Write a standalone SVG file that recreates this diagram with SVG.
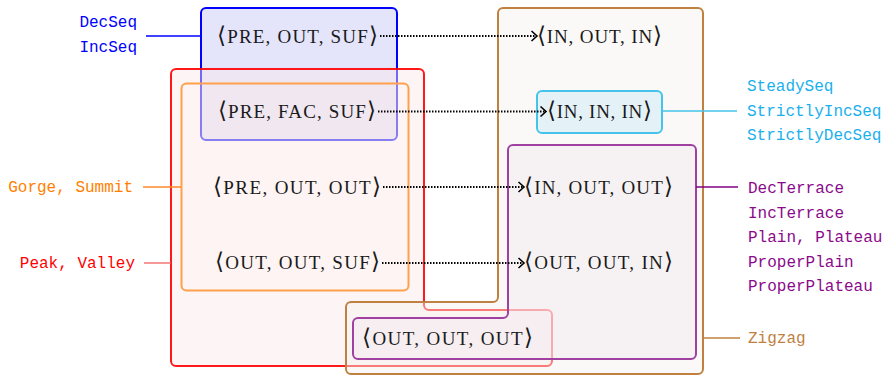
<svg xmlns="http://www.w3.org/2000/svg" width="888" height="375" viewBox="0 0 888 375">
<style>
.m{font-family:"Liberation Serif","DejaVu Serif",serif;font-size:19px;fill:#1a1a1a}
.b{font-family:"DejaVu Sans","DejaVu Serif",serif;font-size:23px;font-weight:300}
.t{font-family:"Liberation Mono","DejaVu Sans Mono",monospace;font-size:16px}
.arr{fill:none;stroke:#000;stroke-width:1.9;stroke-dasharray:1.5 1.5}
.lead{fill:none;stroke-width:1.3}
</style>
<defs>
<marker id="ah" markerUnits="userSpaceOnUse" markerWidth="12" markerHeight="14" refX="10" refY="7" orient="auto" overflow="visible">
<path d="M4.5,2 L10,7 L4.5,12" fill="none" stroke="#000" stroke-width="1.6"/>
</marker>
</defs>
<rect width="888" height="375" fill="#fff"/>

<g id="box-decseq">
<rect x="201" y="8" width="196" height="132" rx="5" fill="#e4e4fa" stroke="#0000ff" stroke-width="2"/>
</g>
<g id="box-peak">
<path d="M176,69 H419 A5,5 0 0 1 424,74 V305 A5,5 0 0 0 429,310 H547 A5,5 0 0 1 552,315 V361 A5,5 0 0 1 547,366 H176 A5,5 0 0 1 171,361 V74 A5,5 0 0 1 176,69 Z" fill="#fbe8e8" fill-opacity="0.45" stroke="#ff0000" stroke-width="2" stroke-opacity="0.9"/>
</g>
<g id="box-gorge">
<rect x="181.5" y="83.5" width="227" height="207" rx="5" fill="#fff4ea" fill-opacity="0.15" stroke="#ffa04c" stroke-width="2"/>
</g>
<g id="box-zigzag">
<path d="M503,8 H698 A5,5 0 0 1 703,13 V369 A5,5 0 0 1 698,374 H351 A5,5 0 0 1 346,369 V307 A5,5 0 0 1 351,302 H493 A5,5 0 0 0 498,297 V13 A5,5 0 0 1 503,8 Z" fill="#f4f1ee" fill-opacity="0.45" stroke="#c0803f" stroke-width="2"/>
</g>
<g id="box-steady">
<rect x="537" y="91" width="125" height="42" rx="5" fill="#e4f2f8" stroke="#45c3ea" stroke-width="2"/>
</g>
<g id="box-terrace">
<path d="M513,145 H691 A5,5 0 0 1 696,150 V354 A5,5 0 0 1 691,359 H358 A5,5 0 0 1 353,354 V323 A5,5 0 0 1 358,318 H503 A5,5 0 0 0 508,313 V150 A5,5 0 0 1 513,145 Z" fill="#f1e8ef" fill-opacity="0.45" stroke="#a040a0" stroke-width="2"/>
</g>

<g id="connectors">
<line class="arr" x1="380" y1="36" x2="537" y2="36" marker-end="url(#ah)"/>
<line class="arr" x1="378" y1="111.5" x2="546" y2="111.5" marker-end="url(#ah)"/>
<line class="arr" x1="383" y1="187" x2="524" y2="187" marker-end="url(#ah)"/>
<line class="arr" x1="382" y1="263" x2="524" y2="263" marker-end="url(#ah)"/>
<line class="lead" x1="146" y1="36" x2="201" y2="36" stroke="#0000ff"/>
<line class="lead" x1="143" y1="187" x2="181" y2="187" stroke="#ff8a2a"/>
<line class="lead" x1="144" y1="263" x2="171" y2="263" stroke="#f06060"/>
<line class="lead" x1="662" y1="111" x2="737" y2="111" stroke="#45c3ea"/>
<line class="lead" x1="696" y1="187" x2="738" y2="187" stroke="#800080"/>
<line class="lead" x1="703" y1="338" x2="740" y2="338" stroke="#c0803f"/>
</g>

<g id="node-pre-out-suf"><text class="m" x="217" y="43" textLength="161" lengthAdjust="spacing"><tspan class="b">⟨</tspan>PRE, OUT, SUF<tspan class="b">⟩</tspan></text></g>
<g id="node-pre-fac-suf"><text class="m" x="218" y="118" textLength="158" lengthAdjust="spacing"><tspan class="b">⟨</tspan>PRE, FAC, SUF<tspan class="b">⟩</tspan></text></g>
<g id="node-pre-out-out"><text class="m" x="213" y="194" textLength="168" lengthAdjust="spacing"><tspan class="b">⟨</tspan>PRE, OUT, OUT<tspan class="b">⟩</tspan></text></g>
<g id="node-out-out-suf"><text class="m" x="215" y="269" textLength="165" lengthAdjust="spacing"><tspan class="b">⟨</tspan>OUT, OUT, SUF<tspan class="b">⟩</tspan></text></g>
<g id="node-in-out-in"><text class="m" x="537" y="43" textLength="125" lengthAdjust="spacing"><tspan class="b">⟨</tspan>IN, OUT, IN<tspan class="b">⟩</tspan></text></g>
<g id="node-in-in-in"><text class="m" x="547" y="118" textLength="105" lengthAdjust="spacing"><tspan class="b">⟨</tspan>IN, IN, IN<tspan class="b">⟩</tspan></text></g>
<g id="node-in-out-out"><text class="m" x="524" y="194" textLength="149" lengthAdjust="spacing"><tspan class="b">⟨</tspan>IN, OUT, OUT<tspan class="b">⟩</tspan></text></g>
<g id="node-out-out-in"><text class="m" x="524" y="269" textLength="149" lengthAdjust="spacing"><tspan class="b">⟨</tspan>OUT, OUT, IN<tspan class="b">⟩</tspan></text></g>
<g id="node-out-out-out"><text class="m" x="362" y="345" textLength="171" lengthAdjust="spacing"><tspan class="b">⟨</tspan>OUT, OUT, OUT<tspan class="b">⟩</tspan></text></g>

<g id="labels">
<text class="t" x="137" y="27" text-anchor="end" fill="#0000ff">DecSeq</text>
<text class="t" x="137" y="52" text-anchor="end" fill="#0000ff">IncSeq</text>
<text class="t" x="133" y="192" text-anchor="end" fill="#ff8000">Gorge, Summit</text>
<text class="t" x="135" y="268" text-anchor="end" fill="#ff0000">Peak, Valley</text>
<text class="t" x="747" y="91" fill="#1ab0ec">SteadySeq</text>
<text class="t" x="747" y="115.5" fill="#1ab0ec">StrictlyIncSeq</text>
<text class="t" x="747" y="140" fill="#1ab0ec">StrictlyDecSeq</text>
<text class="t" x="748" y="193" fill="#8b0a8b">DecTerrace</text>
<text class="t" x="748" y="217.5" fill="#8b0a8b">IncTerrace</text>
<text class="t" x="748" y="242" fill="#8b0a8b">Plain, Plateau</text>
<text class="t" x="748" y="266.5" fill="#8b0a8b">ProperPlain</text>
<text class="t" x="748" y="291" fill="#8b0a8b">ProperPlateau</text>
<text class="t" x="748" y="343" fill="#c0803f">Zigzag</text>
</g>
</svg>
